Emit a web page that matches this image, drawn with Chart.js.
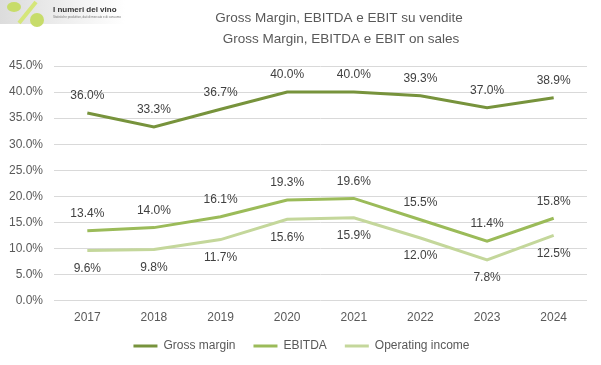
<!DOCTYPE html>
<html>
<head>
<meta charset="utf-8">
<script src="https://cdn.jsdelivr.net/npm/chart.js@4"></script>
<style>
    body { margin: 0; background: #fff; }
    #wrap { width: 601px; height: 365px; }
</style>
</head>
<body>
<div id="wrap"><canvas id="myChart" width="601" height="365"></canvas></div>
<script>
const years = ['2017', '2018', '2019', '2020', '2021', '2022', '2023', '2024'];
const grossMargin = [36.0, 33.3, 36.7, 40.0, 40.0, 39.3, 37.0, 38.9];
const ebitda = [13.4, 14.0, 16.1, 19.3, 19.6, 15.5, 11.4, 15.8];
const operatingIncome = [9.6, 9.8, 11.7, 15.6, 15.9, 12.0, 7.8, 12.5];
const seriesNames = ['Gross margin', 'EBITDA', 'Operating income'];
const titleLines = ['Gross Margin, EBITDA e EBIT su vendite', 'Gross Margin, EBITDA e EBIT on sales'];

const FONT = '"Liberation Sans", Arial, sans-serif';

//Title + logo
const headerPlugin = {
    id: 'header',
    afterLayout(chart) {
        // legend sits a bit right of the canvas centre
        chart.legend.left += 8;
        chart.legend.right += 8;
    },
    afterDraw(chart) {
        let ctx = chart.ctx;
        ctx.save();
        // logo box
        let g = ctx.createLinearGradient(0, 0, 125, 0);
        g.addColorStop(0, '#dcdcdc');
        g.addColorStop(1, '#ffffff');
        ctx.fillStyle = g;
        ctx.fillRect(0, 0, 125, 24);
        ctx.fillStyle = '#c7dc6a';
        ctx.beginPath(); ctx.ellipse(14, 7, 7, 5, 0, 0, Math.PI * 2); ctx.fill();
        ctx.beginPath(); ctx.arc(37, 20, 7, 0, Math.PI * 2); ctx.fill();
        ctx.strokeStyle = '#d5e67a';
        ctx.lineWidth = 4;
        ctx.beginPath(); ctx.moveTo(19, 23); ctx.lineTo(36, 2); ctx.stroke();
        ctx.fillStyle = '#333';
        ctx.font = 'bold 8px ' + FONT;
        ctx.textBaseline = 'middle';
        ctx.fillText('I numeri del vino', 53, 10);
        ctx.font = '3px ' + FONT;
        ctx.fillStyle = '#777';
        ctx.fillText('Statistiche produttive, dati di mercato e di consumo', 53, 17);
        // title
        ctx.fillStyle = '#595959';
        ctx.font = '13.5px ' + FONT;
        ctx.textAlign = 'center';
        ctx.fillText(titleLines[0], 339, 18);
        ctx.fillText(titleLines[1], 341, 39);
        ctx.restore();
    }
};

//Data labels
const valueLabels = {
    id: 'valueLabels',
    afterDatasetsDraw(chart) {
        let ctx = chart.ctx;
        ctx.save();
        ctx.font = '12px ' + FONT;
        ctx.fillStyle = '#404040';
        ctx.textAlign = 'center';
        ctx.textBaseline = 'middle';
        chart.data.datasets.forEach(function (ds, i) {
            let meta = chart.getDatasetMeta(i);
            meta.data.forEach(function (pt, j) {
                let dy = ds.labelPos === 'below' ? 18 : -17;
                ctx.fillText(ds.data[j].toFixed(1) + '%', pt.x, pt.y + dy);
            });
        });
        ctx.restore();
    }
};

function makeSet(label, data, color, labelPos) {
    return {
        label: label,
        data: data,
        borderColor: color,
        backgroundColor: color,
        borderWidth: 3,
        pointRadius: 0,
        pointStyle: 'line',
        tension: 0,
        labelPos: labelPos
    };
}

new Chart(document.getElementById('myChart'), {
    type: 'line',
    data: {
        labels: years,
        datasets: [
            makeSet(seriesNames[0], grossMargin, '#77933c', 'above'),
            makeSet(seriesNames[1], ebitda, '#9bbb59', 'above'),
            makeSet(seriesNames[2], operatingIncome, '#c4d79b', 'below')
        ]
    },
    options: {
        responsive: false,
        animation: false,
        layout: {padding: {top: 66, right: 14, left: 0, bottom: 3}},
        scales: {
            x: {
                offset: true,
                grid: {display: false, drawTicks: false},
                border: {display: false},
                afterFit: function (scale) { scale.height -= 13; },
                ticks: {color: '#595959', font: {size: 12, family: FONT}, padding: 10}
            },
            y: {
                min: 0,
                max: 45,
                grid: {color: '#d9d9d9', drawTicks: false},
                border: {display: false},
                afterFit: function (scale) { scale.width = 54; },
                ticks: {
                    stepSize: 5,
                    color: '#595959',
                    padding: 11,
                    font: {size: 12, family: FONT},
                    callback: function (v) { return v.toFixed(1) + '%'; }
                }
            }
        },
        plugins: {
            title: {display: false},
            tooltip: {enabled: false},
            legend: {
                position: 'bottom',
                labels: {
                    usePointStyle: true,
                    pointStyleWidth: 24,
                    padding: 18,
                    color: '#595959',
                    font: {size: 12, family: FONT}
                }
            }
        }
    },
    plugins: [headerPlugin, valueLabels]
});
</script>
</body>
</html>
